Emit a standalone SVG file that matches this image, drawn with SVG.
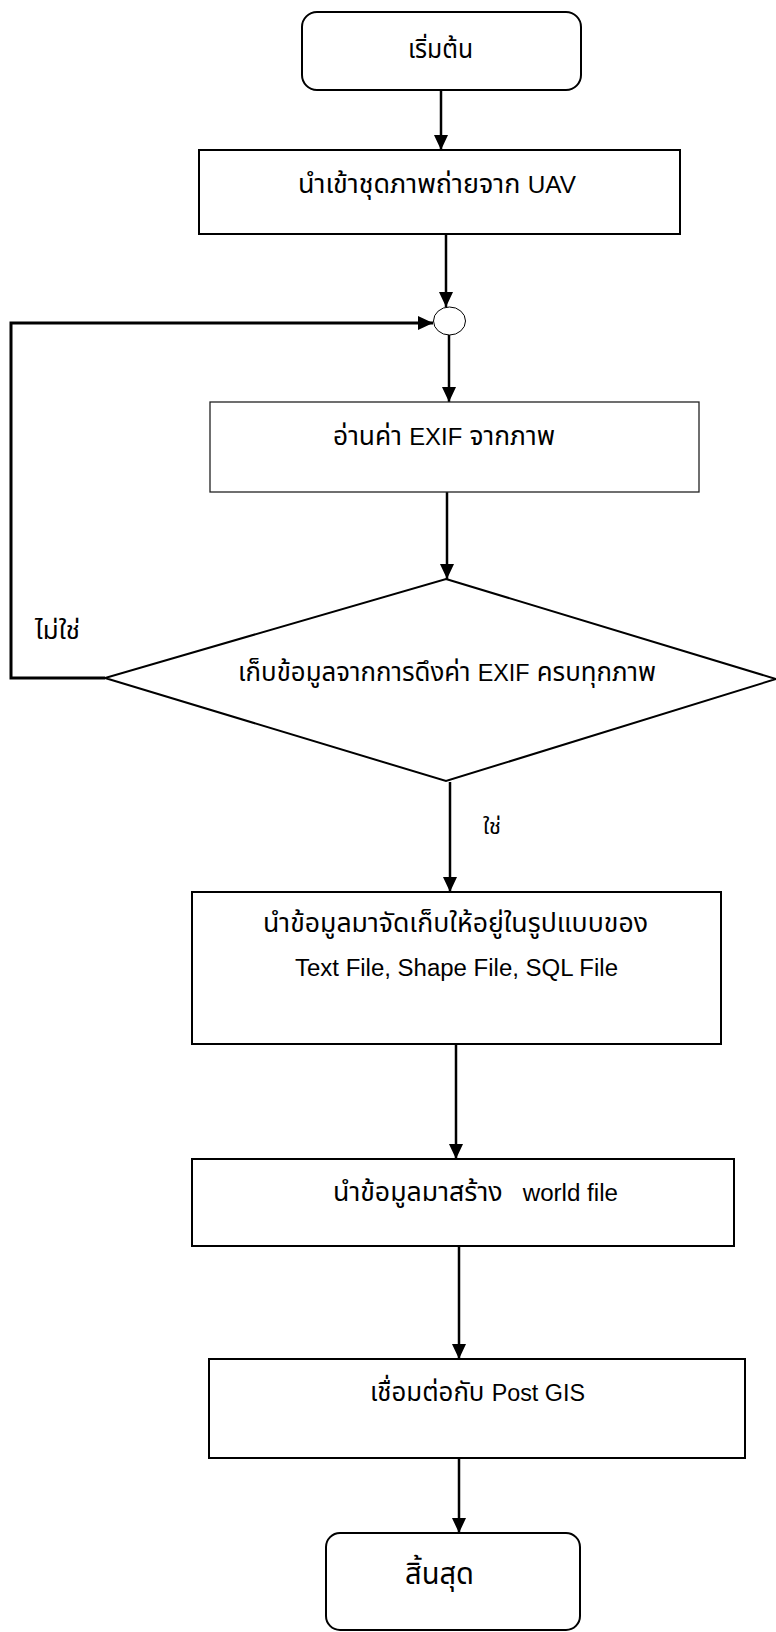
<svg xmlns="http://www.w3.org/2000/svg" width="776" height="1632" viewBox="0 0 776 1632">
  <style>
    .shape { fill: #fff; stroke: #000; stroke-width: 2; }
    .thin { fill: #fff; stroke: #222; stroke-width: 1.3; }
    .edge { fill: none; stroke: #000; stroke-width: 2.5; }
    .label { font-family: "Liberation Sans", "Noto Sans Thai", "Noto Sans", "DejaVu Sans", sans-serif; font-size: 26px; fill: #000; text-anchor: middle; white-space: pre; }
    .lat { font-size: 23.5px; }
    .small { font-size: 24px; text-anchor: start; }
    .big { font-size: 31px; }
  </style>
  <defs>
    <marker id="arrow" markerUnits="userSpaceOnUse" markerWidth="16" markerHeight="14" refX="15" refY="7" orient="auto">
      <path d="M0,0 L15,7 L0,14 Z" fill="#000"/>
    </marker>
  </defs>

  <rect width="776" height="1632" fill="#fff"/>

  <!-- connectors -->
  <g id="connectors">
    <line class="edge" x1="441" y1="90" x2="441" y2="150" marker-end="url(#arrow)"/>
    <line class="edge" x1="446" y1="234" x2="446" y2="307" marker-end="url(#arrow)"/>
    <line class="edge" x1="449" y1="335" x2="449" y2="402" marker-end="url(#arrow)"/>
    <line class="edge" x1="447" y1="492" x2="447" y2="579" marker-end="url(#arrow)"/>
    <line class="edge" x1="450" y1="782" x2="450" y2="892" marker-end="url(#arrow)"/>
    <line class="edge" x1="456" y1="1044" x2="456" y2="1159" marker-end="url(#arrow)"/>
    <line class="edge" x1="459" y1="1246" x2="459" y2="1359" marker-end="url(#arrow)"/>
    <line class="edge" x1="459" y1="1458" x2="459" y2="1533" marker-end="url(#arrow)"/>
    <path class="edge" style="stroke-width:3" d="M105,678 L11,678 L11,323 L433,323" marker-end="url(#arrow)"/>
    <text class="label small" x="35" y="639" textLength="45" lengthAdjust="spacingAndGlyphs">ไม่ใช่</text>
    <text class="label small" style="font-size:21px" x="483" y="834" textLength="18" lengthAdjust="spacingAndGlyphs">ใช่</text>
  </g>

  <!-- start terminator -->
  <g id="start">
    <rect class="shape" x="302" y="12" width="279" height="78" rx="15"/>
    <text class="label" x="440.5" y="58" textLength="65" lengthAdjust="spacingAndGlyphs">เริ่มต้น</text>
  </g>

  <!-- import UAV photo set -->
  <g id="import">
    <rect class="shape" x="199" y="150" width="481" height="84"/>
    <text class="label" x="437" y="193" textLength="278" lengthAdjust="spacingAndGlyphs">นำเข้าชุดภาพถ่ายจาก <tspan class="lat">UAV</tspan></text>
  </g>

  <!-- loop junction -->
  <g id="junction">
    <ellipse cx="449.5" cy="321" rx="16" ry="14" fill="#fff" stroke="#000" stroke-width="1"/>
  </g>

  <!-- read EXIF -->
  <g id="read-exif">
    <rect class="thin" x="210" y="402" width="489" height="90"/>
    <text class="label" x="444" y="445" textLength="222" lengthAdjust="spacingAndGlyphs">อ่านค่า <tspan class="lat">EXIF</tspan> จากภาพ</text>
  </g>

  <!-- decision -->
  <g id="decision">
    <polygon class="shape" points="446,579 776,679 446,781 105,678"/>
    <text class="label" x="447" y="681" textLength="418" lengthAdjust="spacingAndGlyphs">เก็บข้อมูลจากการดึงค่า <tspan class="lat">EXIF</tspan> ครบทุกภาพ</text>
  </g>

  <!-- store data -->
  <g id="store">
    <rect class="shape" x="192" y="892" width="529" height="152"/>
    <text class="label" x="455.5" y="932" textLength="385" lengthAdjust="spacingAndGlyphs">นำข้อมูลมาจัดเก็บให้อยู่ในรูปแบบของ</text>
    <text class="label lat" x="456.5" y="976" textLength="323" lengthAdjust="spacingAndGlyphs">Text File, Shape File, SQL File</text>
  </g>

  <!-- world file -->
  <g id="world-file">
    <rect class="shape" x="192" y="1159" width="542" height="87"/>
    <text class="label" x="475.5" y="1201" textLength="285" lengthAdjust="spacingAndGlyphs">นำข้อมูลมาสร้าง<tspan class="lat">   world file</tspan></text>
  </g>

  <!-- PostGIS -->
  <g id="postgis">
    <rect class="shape" x="209" y="1359" width="536" height="99"/>
    <text class="label" x="477.5" y="1401" textLength="215" lengthAdjust="spacingAndGlyphs">เชื่อมต่อกับ <tspan class="lat">Post GIS</tspan></text>
  </g>

  <!-- end terminator -->
  <g id="end">
    <rect class="shape" x="326" y="1533" width="254" height="97" rx="14"/>
    <text class="label big" x="439.5" y="1584" textLength="69" lengthAdjust="spacingAndGlyphs">สิ้นสุด</text>
  </g>
</svg>
